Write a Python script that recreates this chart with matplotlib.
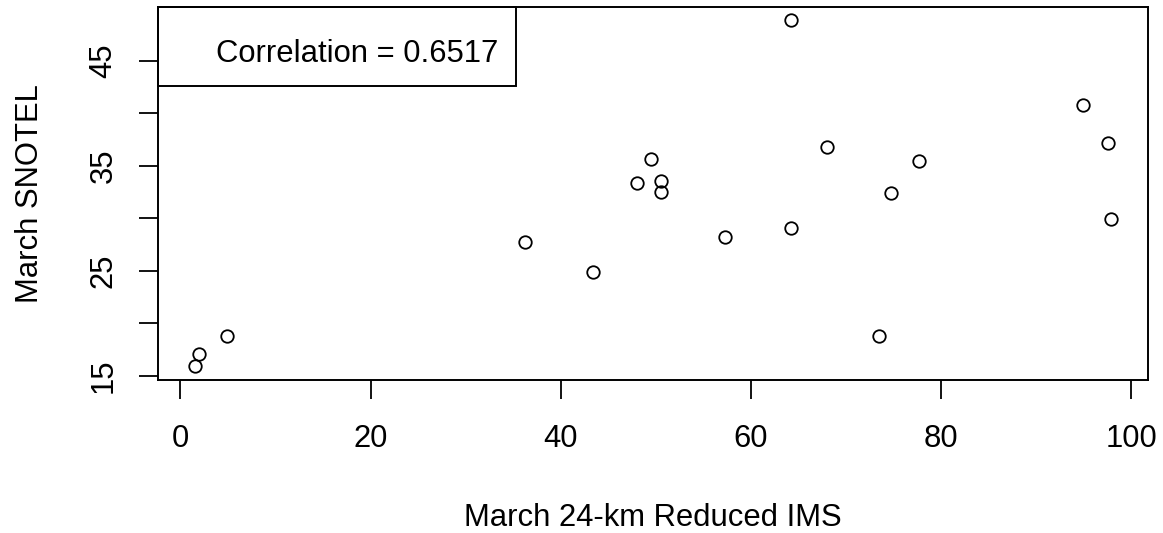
import numpy as np
import matplotlib.pyplot as plt
from matplotlib.patches import Rectangle

plt.rcParams['font.family'] = ['Liberation Sans', 'DejaVu Sans']

# March values: reduced IMS (x) against SNOTEL (y)
ims_24km = [64.2, 94.95, 97.5, 67.96, 49.46, 77.68, 47.98, 50.54, 50.54, 74.72,
            97.86, 64.21, 57.24, 36.19, 43.37, 73.43, 1.51, 1.93, 4.87]
snotel = [48.81, 40.77, 37.13, 36.78, 35.6, 35.41, 33.33, 33.56, 32.47, 32.35,
          29.89, 29.1, 28.17, 27.78, 24.91, 18.79, 15.92, 17.04, 18.79]
corr_text = "Correlation = 0.6517"
x_ticks = [0, 20, 40, 60, 80, 100]
y_ticks = [15, 20, 25, 30, 35, 40, 45]
y_tick_labels = ['15', '', '25', '', '35', '', '45']

fs = 22.3
fig = plt.figure(figsize=(11.63, 5.33), dpi=100)
ax = fig.add_axes([0.1359, 0.2871, 0.8510, 0.7004])

# open circles, like R's default pch=1
ax.plot(ims_24km, snotel, 'o', mfc='none', mec='black', ms=9, mew=1.3, ls='none')
ax.margins(0.04)

ax.set_xticks(x_ticks)
ax.set_yticks(y_ticks)
ax.set_yticklabels(y_tick_labels, rotation=90, va='center')
ax.tick_params(axis='both', length=13.5, width=1.3, labelsize=fs, direction='out')
ax.tick_params(axis='x', pad=18)
ax.tick_params(axis='y', pad=15)
for s in ax.spines.values():
    s.set_linewidth(1.4)

ax.set_xlabel("March 24-km Reduced IMS", fontsize=fs, labelpad=35.5)
ax.set_ylabel("March SNOTEL", fontsize=fs, labelpad=31.5)

# legend box in the top-left corner, like R's legend("topleft", ...)
ax.add_patch(Rectangle((0, 0.7884), 0.3617, 0.2116, transform=ax.transAxes,
                       fill=False, ec='black', lw=1.4, clip_on=False))
ax.text(0.3435, 0.8519, corr_text, transform=ax.transAxes, fontsize=fs,
        ha='right', va='baseline')

plt.savefig('out.png', dpi=100)
